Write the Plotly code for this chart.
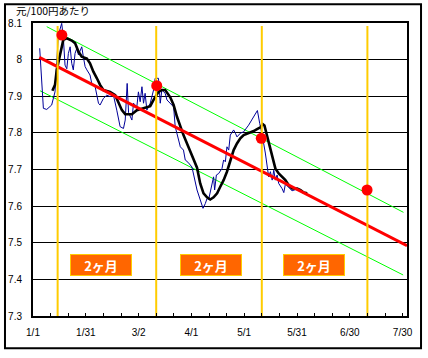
import plotly.graph_objects as go

# ---- data (x = days since 1/1) ----
tick_days = [0, 30, 60, 90, 120, 150, 180, 210]
tick_labels = ["1/1", "1/31", "3/2", "4/1", "5/1", "5/31", "6/30", "7/30"]
y_ticks = [7.3, 7.4, 7.5, 7.6, 7.7, 7.8, 7.9, 8.0, 8.1]
y_labels = ["7.3", "7.4", "7.5", "7.6", "7.7", "7.8", "7.9", "8", "8.1"]

daily_days = [3.8, 4.5, 5.9, 7.8, 10.6, 12.5, 13.5, 14.4, 16.3, 17.2, 18.2, 19.2, 20.1, 21.1, 22.0,
              22.9, 23.9, 24.9, 25.8, 26.7, 27.7, 28.6, 29.6, 30.6, 32.4, 33.4, 35.3, 37.2, 38.1,
              40.0, 41.9, 43.8, 45.7, 47.6, 48.6, 49.5, 51.4, 52.4, 53.5, 54.3, 56.2, 57.1, 59.0,
              59.9, 60.9, 61.9, 62.8, 63.7, 64.7, 66.6, 68.5, 69.4, 71.3, 72.3, 73.2, 75.1, 76.1,
              78.0, 79.9, 80.8, 82.7, 83.7, 85.5, 86.5, 88.0, 90.3, 93.2, 95.0, 96.6, 97.9, 98.9,
              99.8, 100.7, 101.7, 102.6, 103.2, 104.2, 105.5, 107.4, 108.3, 109.3, 110.2, 111.2,
              112.1, 113.1, 114.0, 115.0, 115.9, 117.8, 119.7, 122.5, 125.4, 127.5, 128.8, 130.2,
              132.0, 133.0, 133.9, 134.9, 135.9, 136.8, 137.7, 138.7, 139.6, 141.5, 142.5, 143.4,
              145.3, 147.2, 149.1, 152.0]
daily_rate = [8.031, 7.97, 7.867, 7.864, 7.876, 7.912, 8.008, 8.067, 8.099, 8.063, 7.985, 7.975, 8.017, 8.035, 7.99,
              7.972, 8.017, 8.031, 8.013, 8.022, 8.035, 8.008, 7.981, 7.972, 7.958, 7.935, 7.926, 7.881, 7.876,
              7.894, 7.903, 7.899, 7.903, 7.862, 7.835, 7.817, 7.812, 7.835, 7.935, 7.855, 7.835, 7.881, 7.871,
              7.912, 7.885, 7.926, 7.881, 7.908, 7.862, 7.881, 7.917, 7.949, 7.949, 7.881, 7.917, 7.908, 7.89,
              7.881, 7.871, 7.817, 7.78, 7.762, 7.753, 7.726, 7.72, 7.707, 7.644, 7.616, 7.594, 7.607, 7.621,
              7.618, 7.639, 7.666, 7.68, 7.644, 7.685, 7.689, 7.703, 7.726, 7.721, 7.762, 7.753,
              7.794, 7.803, 7.808, 7.799, 7.789, 7.799, 7.803, 7.821, 7.844, 7.861, 7.826, 7.795,
              7.745, 7.707, 7.68, 7.694, 7.671, 7.698, 7.671, 7.685, 7.662, 7.648, 7.637, 7.66,
              7.652, 7.642, 7.645, 7.644]

avg_days = [11.0, 12.5, 13.5, 14.4, 15.4, 16.3, 17.2, 19.2, 22.0, 23.9, 25.8, 27.7, 30.6, 32.4, 34.3,
            36.3, 38.1, 40.0, 43.8, 46.7, 48.6, 50.5, 52.4, 56.2, 59.0, 62.8, 66.6, 68.5, 71.3, 73.2,
            75.1, 78.0, 79.9, 81.8, 83.7, 85.5, 87.5, 89.4, 91.2, 93.2, 95.0, 96.9, 98.9, 100.7, 102.6,
            104.6, 106.4, 108.3, 110.2, 112.1, 114.0, 115.9, 117.8, 119.7, 122.5, 125.4, 127.3, 129.2,
            130.5, 131.5, 133.0, 134.9, 135.9, 136.8, 137.7, 139.6, 141.5, 143.4, 145.3, 147.2, 150.1,
            152.0, 153.8, 155.8]
avg_rate = [7.915, 7.931, 7.972, 7.994, 8.008, 8.031, 8.054, 8.058, 8.052, 8.045, 8.022, 8.008, 8.003, 7.99, 7.967,
            7.949, 7.931, 7.917, 7.912, 7.903, 7.881, 7.862, 7.851, 7.851, 7.862, 7.867, 7.873, 7.89, 7.912, 7.917,
            7.917, 7.897, 7.876, 7.844, 7.817, 7.794, 7.771, 7.748, 7.728, 7.705, 7.662, 7.635, 7.624, 7.618, 7.624,
            7.635, 7.653, 7.671, 7.694, 7.726, 7.753, 7.771, 7.785, 7.794, 7.799, 7.805, 7.81, 7.815,
            7.824, 7.82, 7.792, 7.758, 7.735, 7.717, 7.703, 7.689, 7.68, 7.671, 7.657, 7.648, 7.648,
            7.644, 7.637, 7.635]

trend_days = [3.6, 212.5]
trend_rate = [8.006, 7.492]
upper_days = [7.8, 210.5]
upper_rate = [8.09, 7.583]
lower_days = [4.0, 210.3]
lower_rate = [7.915, 7.412]

marker_lines = [14, 70, 130, 190]
dot_days = [16.4, 70.3, 129.7, 189.8]
dot_rate = [8.067, 7.929, 7.785, 7.644]

box_days = [38.6, 101.1, 159.9]
box_rate = 7.439
box_text = "2ヶ月"

fig = go.Figure()
fig.add_trace(go.Scatter(x=upper_days, y=upper_rate, mode="lines", line=dict(color="#00FF00", width=1)))
fig.add_trace(go.Scatter(x=lower_days, y=lower_rate, mode="lines", line=dict(color="#00FF00", width=1)))
fig.add_trace(go.Scatter(x=daily_days, y=daily_rate, mode="lines", line=dict(color="#000099", width=1)))
fig.add_trace(go.Scatter(x=avg_days, y=avg_rate, mode="lines", line=dict(color="#000000", width=2.6)))
fig.add_trace(go.Scatter(x=trend_days, y=trend_rate, mode="lines", line=dict(color="#FF0000", width=3)))
for d in marker_lines:
    fig.add_trace(go.Scatter(x=[d, d], y=[7.3, 8.092], mode="lines", line=dict(color="#FFCC00", width=2)))
fig.add_trace(go.Scatter(x=dot_days, y=dot_rate, mode="markers",
                         marker=dict(color="#FF0000", size=11, line=dict(width=0))))

for d in box_days:
    fig.add_annotation(x=d, y=box_rate, xref="x", yref="y", text=box_text, showarrow=False,
                       font=dict(family="Noto Sans CJK JP", size=13, color="white", weight="bold"),
                       bgcolor="#FF6600", bordercolor="#FFCC00", borderwidth=1, borderpad=1,
                       width=58, height=18)

fig.add_annotation(x=-0.051, y=1.041, xref="paper", yref="paper", text="元/100円あたり",
                   showarrow=False, xanchor="left", yanchor="middle",
                   font=dict(family="Noto Sans CJK JP", size=10.5, color="black"))

fig.add_shape(type="rect", xref="paper", yref="paper", x0=-0.0749, x1=1.0375, y0=-0.1103, y1=1.0638,
              line=dict(color="black", width=2), fillcolor="rgba(0,0,0,0)", layer="above")

fig.update_xaxes(range=[0, 212.5], tickmode="array", tickvals=tick_days, ticktext=tick_labels,
                 ticks="inside", ticklen=3, tickcolor="black", tickwidth=1,
                 minor=dict(ticks="inside", ticklen=3, tickcolor="black", dtick=10, tick0=0, showgrid=False),
                 showgrid=False, zeroline=False, showline=True, linecolor="black", linewidth=2, mirror=True,
                 tickfont=dict(family="Liberation Sans", size=10, color="black"), ticklabelstandoff=6,
                 automargin=False)
fig.update_yaxes(range=[7.3, 8.1], tickmode="array", tickvals=y_ticks, ticktext=y_labels,
                 showgrid=True, gridcolor="black", gridwidth=1, zeroline=False,
                 showline=True, linecolor="black", linewidth=2, mirror=True, ticks="",
                 tickfont=dict(family="Liberation Sans", size=10, color="black"), ticklabelstandoff=7,
                 automargin=False)

fig.update_layout(width=428, height=358,
                  margin=dict(l=33, r=21.3, t=23, b=42, autoexpand=False),
                  plot_bgcolor="white", paper_bgcolor="white", showlegend=False)

fig.write_html("out.html", config={"displayModeBar": False},
               post_script="document.body.style.margin='0';document.body.style.padding='0';")
